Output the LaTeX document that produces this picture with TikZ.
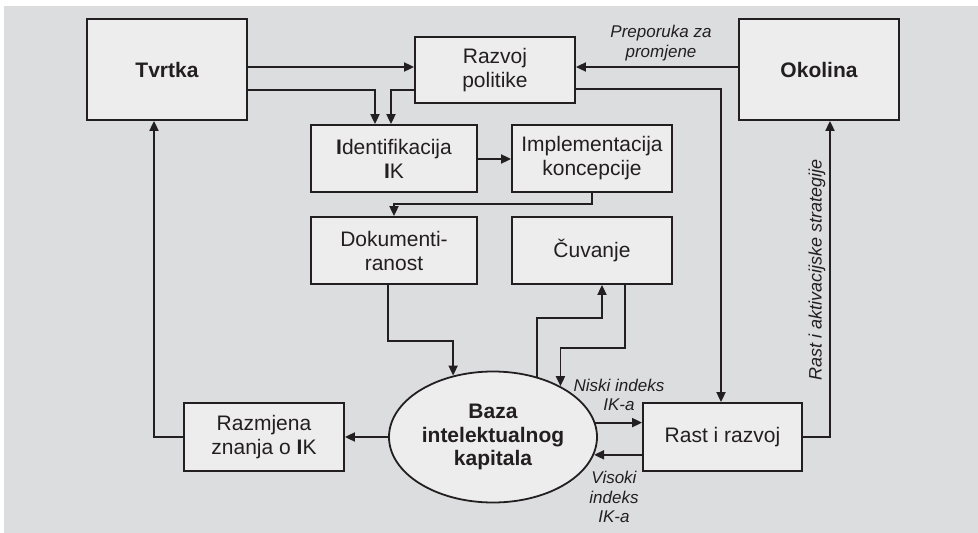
\documentclass[tikz,border=0pt]{standalone}
\usepackage{fontspec}
\setmainfont{Liberation Sans}
\usetikzlibrary{arrows.meta,shapes.geometric}
\definecolor{bgc}{HTML}{DCDDDF}
\definecolor{boxc}{HTML}{EDEDED}
\definecolor{linec}{HTML}{231F20}
\begin{document}
\begin{tikzpicture}[x=1pt,y=-1pt,
  box/.style={draw=linec, fill=boxc, line width=1.8pt, align=center, inner sep=0pt, text=linec, font=\fontsize{21}{24}\selectfont},
  arr/.style={draw=linec, line width=1.8pt, -{Triangle[length=10pt,width=9pt]}},
  lbl/.style={font=\fontsize{17}{19.5}\selectfont\itshape, align=center, text=linec, inner sep=0pt}]
\useasboundingbox (0,0) rectangle (978,533);
\fill[white] (0,0) rectangle (978,533);
\fill[bgc] (4,6) rectangle (978,533);
% nodes
\node[box, minimum width=160, minimum height=101, font=\fontsize{21}{24}\selectfont\bfseries] (tv) at (167,69.5) {Tvrtka};
\node[box, minimum width=160, minimum height=66] (rp) at (495,70) {Razvoj\\politike};
\node[box, minimum width=160, minimum height=101, font=\fontsize{21}{24}\selectfont\bfseries] (ok) at (819,69.5) {Okolina};
\node[box, minimum width=166, minimum height=67] (id) at (394,158.5) {\textbf{I}dentifikacija\\\textbf{I}K};
\node[box, minimum width=160, minimum height=67] (im) at (592,158.5) {Implementacija\\koncepcije};
\node[box, minimum width=166, minimum height=67] (dk) at (394,250.5) {Dokumenti-\\ranost};
\node[box, minimum width=160, minimum height=67] (cu) at (592,250.5) {Čuvanje};
\node[box, ellipse, minimum width=208, minimum height=131, font=\fontsize{21}{23.5}\selectfont\bfseries] (bz) at (493,437) {Baza\\intelektualnog\\kapitala};
\node[box, minimum width=160, minimum height=68] (rz) at (264,437) {Razmjena\\znanja o \textbf{I}K};
\node[box, minimum width=159, minimum height=68] (rr) at (722.5,437) {Rast i razvoj};
% ellipse border points
\coordinate (b0) at (bz.123.5);
\coordinate (b1) at (bz.54.2);
\coordinate (b2) at (bz.37.5);
\coordinate (b3) at (bz.8.1);
\coordinate (b4) at (bz.-10.6);
% connectors
\draw[arr] (tv.east |- 0,67) -- (rp.west |- 0,67);
\draw[arr] (tv.east |- 0,90) -| (id.north -| 375,0);
\draw[arr] (rp.west |- 0,90) -| (id.north -| 391,0);
\draw[arr] (ok.west |- 0,67) -- (rp.east |- 0,67);
\node[lbl] (lp) at (661,43) {Preporuka za\\promjene};
\draw[arr] (rp.east |- 0,89) -| (rr.north -| 721,0);
\draw[arr] (id.east |- 0,159) -- (im.west |- 0,159);
\draw[arr] (im.south) -- (im.south |- 0,204) -| (dk.north);
\draw[arr] (dk.south -| 388,0) -- (388,341) -| (b0);
\draw[arr] (b1) -- (b1 |- 0,318) -| (cu.south -| 602,0);
\draw[arr] (cu.south -| 625,0) |- (b2 |- 0,348) -- (b2);
\draw[arr] (b3) -- (rr.west |- b3);
\node[lbl] (ln) at (619,395) {Niski indeks\\IK-a};
\draw[arr] (rr.west |- b4) -- (b4);
\node[lbl] (lv) at (614,497) {Visoki\\indeks\\IK-a};
\draw[arr] (rr.east) -| (ok.south -| 830,0);
\node[lbl, rotate=90, font=\fontsize{18}{20}\selectfont\itshape] (lr) at (817,270) {Rast i aktivacijske strategije};
\draw[arr] (bz.west) -- (rz.east);
\draw[arr] (rz.west) -| (tv.south -| 154,0);
\end{tikzpicture}
\end{document}
